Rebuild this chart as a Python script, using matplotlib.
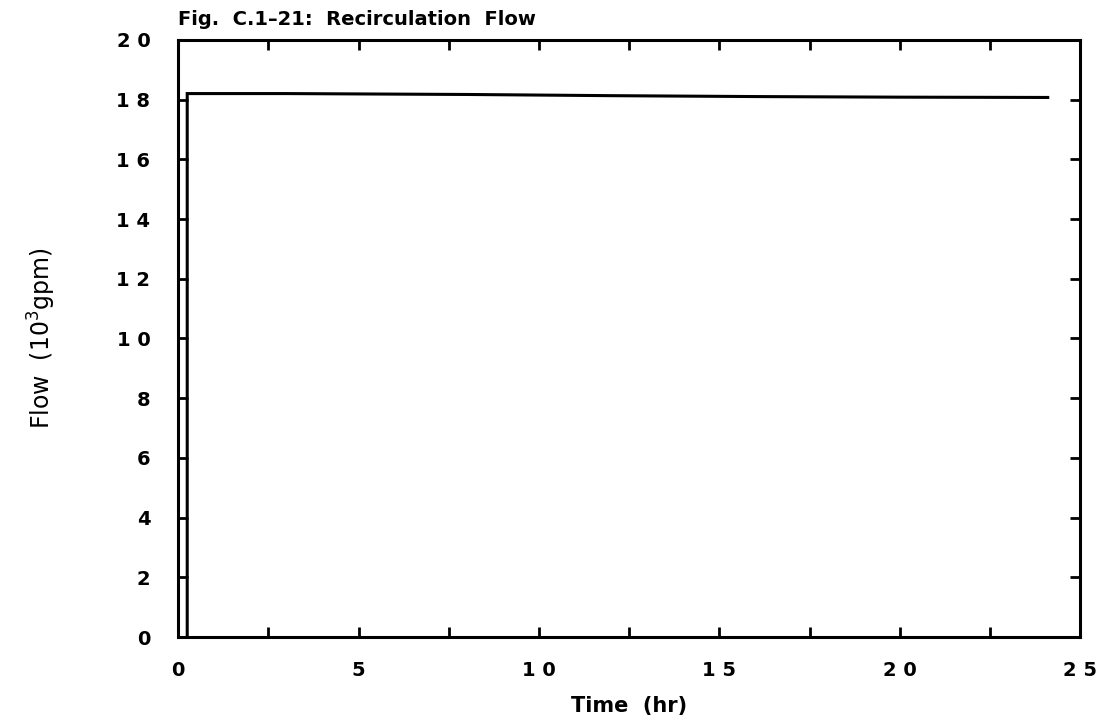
import matplotlib
matplotlib.use("Agg")
import matplotlib.pyplot as plt
import numpy as np

# Data
time_hr = [0.25, 0.25, 3.0, 8.0, 12.0, 16.0, 20.0, 24.1]
flow_k_gpm = [0.0, 18.2, 18.2, 18.17, 18.13, 18.1, 18.08, 18.07]

x_ticks = np.arange(0, 25.1, 2.5)
x_labels = ["0", "", "5", "", "1 0", "", "1 5", "", "2 0", "", "2 5"]
y_ticks = np.arange(0, 20.1, 2)
y_labels = ["0", "2", "4", "6", "8", "1 0", "1 2", "1 4", "1 6", "1 8", "2 0"]

fig = plt.figure(figsize=(11, 7.24), dpi=100)
ax = fig.add_axes([0.162, 0.120, 0.820, 0.825])

ax.plot(time_hr, flow_k_gpm, color="black", lw=2.2, solid_joinstyle="miter")

ax.set_xlim(0, 25)
ax.set_ylim(0, 20)
ax.set_xticks(x_ticks)
ax.set_xticklabels(x_labels)
ax.set_yticks(y_ticks)
ax.set_yticklabels(y_labels)

for s in ax.spines.values():
    s.set_linewidth(2.2)

ax.tick_params(axis="both", direction="in", length=7, width=2,
               top=True, right=True, labelsize=14)
ax.tick_params(axis="x", pad=17)
ax.tick_params(axis="y", pad=20)
for lab in ax.get_xticklabels() + ax.get_yticklabels():
    lab.set_fontfamily("DejaVu Sans")
    lab.set_fontweight("bold")

ax.set_xlabel("Time  (hr)", fontsize=15, fontweight="bold", labelpad=12,
              family="DejaVu Sans")
ax.set_ylabel("Flow  (10$^3$gpm)", fontsize=17, labelpad=42,
              family="Liberation Sans Narrow")
ax.text(0.0, 1.018, "Fig.  C.1\u201321:  Recirculation  Flow", transform=ax.transAxes,
        ha="left", va="bottom", fontsize=14, fontweight="bold", family="DejaVu Sans")

fig.savefig("out.png", dpi=100)
